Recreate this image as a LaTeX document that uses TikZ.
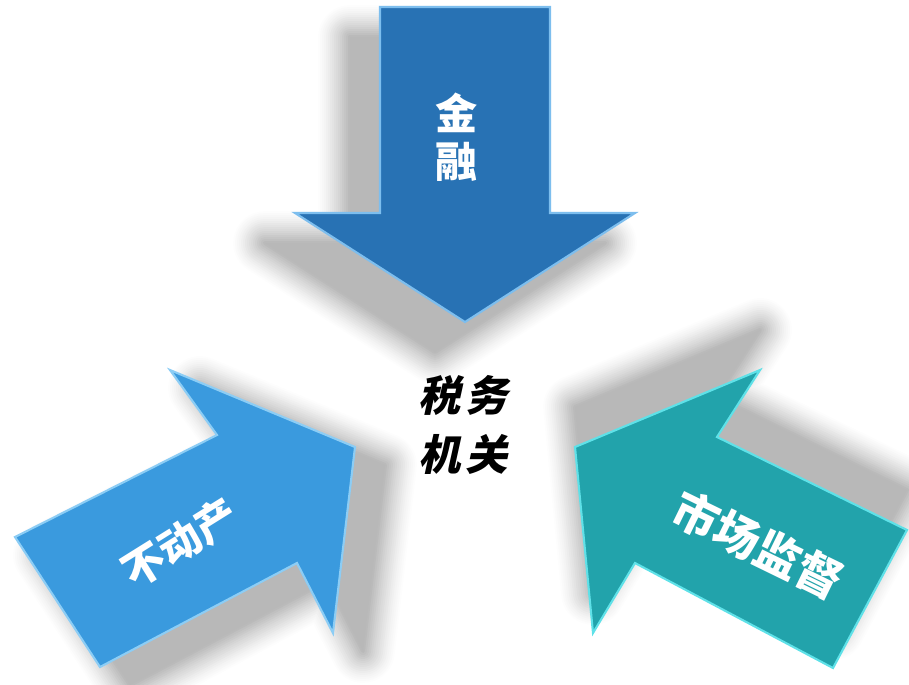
\documentclass[tikz,border=0pt]{standalone}
\usepackage{fontspec}
\newfontfamily\cjk{Noto Sans CJK SC}
\newfontfamily\cjkslant{Noto Sans CJK SC}[FakeSlant=0.22]
\definecolor{topblue}{RGB}{40,114,180}
\definecolor{topedge}{RGB}{125,190,238}
\definecolor{leftblue}{RGB}{58,154,222}
\definecolor{leftedge}{RGB}{140,205,245}
\definecolor{rightteal}{RGB}{34,163,171}
\definecolor{rightedge}{RGB}{95,225,232}
% outlines of the three arrows, in pixels of the reference
\newcommand{\jinrongpath}{(380,7) -- (550,7) -- (550,213) -- (635,213) -- (465,322) -- (295,213) -- (380,213) -- cycle}
\newcommand{\budongpath}{(15,537) -- (217,435) -- (170,370) -- (355,447) -- (333,633) -- (297,563) -- (100,667) -- cycle}
\newcommand{\shichangpath}{(907,530) -- (717,437) -- (760,370) -- (575,447) -- (593,633) -- (635,563) -- (833,668) -- cycle}
% soft shadow: rings of grey from light (outside) to dark (on the edge)
\newcommand{\softshadow}[2]{%
  \foreach \i [evaluate=\i as \g using {27*(\i/16)^1.3}] in {1,...,16}
    \draw[softshade, draw=black!\g, shift={#1}, line width=(17-\i)*4*0.567pt] #2;
  \fill[black!28, shift={#1}] #2;}
\begin{document}
\begin{tikzpicture}[x=0.02cm, y=-0.02cm,
  softshade/.style={line join=round},
  arrowbody/.style={line width=1.2pt, line join=miter},
  arrowtext/.style={text=white, inner sep=0pt, font=\cjk\bfseries\fontsize{24}{27}\selectfont}]
\useasboundingbox (0,0) rectangle (909,684);
\softshadow{(-30,30)}{\jinrongpath}
\softshadow{(30,18)}{\budongpath}
\softshadow{(0,-40)}{\shichangpath}
\filldraw[arrowbody, fill=topblue, draw=topedge] \jinrongpath;
\filldraw[arrowbody, fill=leftblue, draw=leftedge] \budongpath;
\filldraw[arrowbody, fill=rightteal, draw=rightedge] \shichangpath;
\node[arrowtext, align=center] (jinrong) at (457,137) {金\\融};
\node[arrowtext, rotate=32] (budongchan) at (180,543) {不动产};
\node[arrowtext, rotate=-26, font=\cjk\bfseries\fontsize{26}{30}\selectfont] (shichang) at (758,545) {市场监督};
\node[inner sep=0pt, align=center, font=\cjkslant\bfseries\fontsize{24}{33.5}\selectfont] (shuiwu) at (463,425) {税\hspace{0.12em}务\\机\hspace{0.12em}关};
\end{tikzpicture}
\end{document}
